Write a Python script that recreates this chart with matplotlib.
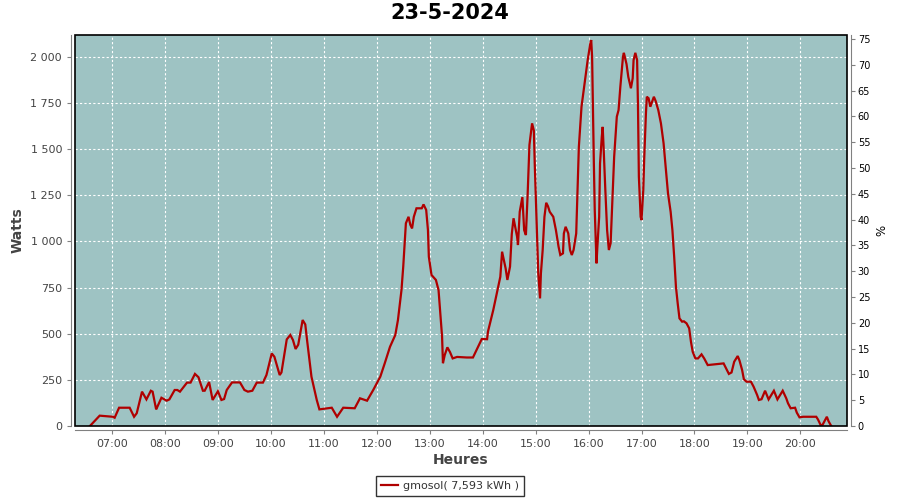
import matplotlib
matplotlib.use("Agg")
import matplotlib.pyplot as plt
from matplotlib.patches import Rectangle
from matplotlib.ticker import FuncFormatter

title = "23-5-2024"
series_label = "gmosol( 7,593 kWh )"

times = ["06:35", "06:46", "07:01", "07:03", "07:08", "07:20", "07:25", "07:28", "07:34", "07:39",
         "07:44", "07:46", "07:50", "07:51", "07:56", "08:02", "08:05", "08:11", "08:14", "08:17",
         "08:25", "08:29", "08:34", "08:38", "08:43", "08:45", "08:50", "08:54", "09:00", "09:04",
         "09:07", "09:10", "09:16", "09:25", "09:30", "09:34", "09:39", "09:44", "09:51", "09:55",
         "10:01", "10:04", "10:10", "10:12", "10:18", "10:22", "10:25", "10:28", "10:31", "10:36",
         "10:39", "10:41", "10:46", "10:52", "10:55", "11:09", "11:15", "11:22", "11:35", "11:41",
         "11:49", "11:56", "12:04", "12:09", "12:15", "12:21", "12:24", "12:28", "12:30", "12:33",
         "12:36", "12:38", "12:40", "12:42", "12:45", "12:51", "12:53", "12:56", "12:58", "12:59",
         "13:02", "13:07", "13:10", "13:12", "13:14", "13:15", "13:17", "13:20", "13:23", "13:26",
         "13:31", "13:42", "13:49", "13:53", "13:59", "14:05", "14:06", "14:12", "14:16", "14:20",
         "14:22", "14:26", "14:28", "14:31", "14:33", "14:35", "14:39", "14:40", "14:42", "14:45",
         "14:47", "14:49", "14:51", "14:53", "14:56", "14:58", "14:59", "15:01", "15:03", "15:05",
         "15:06", "15:08", "15:10", "15:12", "15:14", "15:16", "15:20", "15:23", "15:26", "15:28",
         "15:31", "15:32", "15:34", "15:37", "15:39", "15:41", "15:43", "15:46", "15:47", "15:49",
         "15:52", "15:56", "15:59", "16:02", "16:03", "16:04", "16:06", "16:07", "16:09", "16:10",
         "16:12", "16:13", "16:15", "16:16", "16:17", "16:19", "16:21", "16:23", "16:25", "16:27",
         "16:29", "16:32", "16:34", "16:36", "16:39", "16:40", "16:43", "16:45", "16:48", "16:50",
         "16:51", "16:53", "16:55", "16:56", "16:57", "16:59", "17:00", "17:02", "17:03", "17:05",
         "17:06", "17:08", "17:10", "17:12", "17:14", "17:16", "17:19", "17:22", "17:25", "17:27",
         "17:30", "17:33", "17:35", "17:37", "17:39", "17:41", "17:43", "17:46", "17:48", "17:51",
         "17:54", "17:56", "17:58", "18:01", "18:04", "18:08", "18:11", "18:15", "18:33", "18:39",
         "18:42", "18:45", "18:49", "18:51", "18:54", "18:56", "18:59", "19:04", "19:07", "19:11",
         "19:13", "19:16", "19:20", "19:24", "19:30", "19:34", "19:40", "19:44", "19:46", "19:49",
         "19:54", "19:56", "19:59", "20:03", "20:18", "20:20", "20:23", "20:25", "20:30", "20:32",
         "20:35"]

watts = [0, 56, 50, 45, 99, 99, 50, 69, 186, 144,
         191, 186, 90, 100, 153, 137, 144, 195, 195, 186,
         235, 235, 282, 264, 191, 191, 238, 141, 188, 141,
         146, 195, 236, 236, 195, 186, 191, 235, 235, 276,
         393, 375, 276, 290, 469, 493, 466, 417, 440, 574,
         550, 466, 267, 141, 90, 99, 50, 99, 96, 150,
         137, 195, 267, 339, 429, 493, 574, 736, 863, 1098,
         1133, 1090, 1070, 1133, 1179, 1179, 1200, 1170, 1061, 917,
         818, 791, 736, 610, 484, 340, 384, 426, 400, 366,
         374, 371, 371, 411, 471, 470, 511, 628, 719, 808,
         944, 854, 791, 863, 1040, 1125, 1025, 980, 1160, 1240,
         1061, 1034, 1260, 1522, 1639, 1600, 1422, 1133, 827, 691,
         827, 953, 1133, 1209, 1190, 1160, 1133, 1061, 971, 926,
         935, 1043, 1079, 1043, 953, 926, 953, 1043, 1206, 1512,
         1729, 1873, 1982, 2072, 2090, 2000, 1422, 1170, 881, 972,
         1133, 1422, 1567, 1620, 1512, 1278, 1061, 953, 990, 1224,
         1458, 1675, 1711, 1837, 2000, 2021, 1960, 1891, 1829, 1883,
         1982, 2021, 1982, 1729, 1350, 1133, 1115, 1278, 1440, 1693,
         1783, 1775, 1729, 1756, 1783, 1760, 1711, 1639, 1531, 1422,
         1260, 1160, 1061, 917, 754, 664, 583, 565, 567, 556,
         529, 457, 402, 366, 366, 388, 366, 330, 339, 282,
         290, 348, 379, 355, 303, 253, 240, 240, 213, 168,
         141, 145, 191, 144, 191, 144, 191, 150, 123, 96,
         99, 72, 47, 50, 50, 35, 5, 5, 50, 25,
         0]

hour_ticks = list(range(7, 21))
watt_ticks = list(range(0, 2001, 250))
pct_ticks = list(range(0, 76, 5))


def to_hours(s):
    h, m = s.split(":")
    return int(h) + int(m) / 60.0


x = [to_hours(t) for t in times]

fig = plt.figure(figsize=(9, 5), dpi=100)
ax = fig.add_axes([75.3 / 900, 1 - 426 / 500, (846.7 - 75.3) / 900, (426 - 35) / 500])
ax.set_facecolor("#9EC3C3")

ax.plot(x, watts, color="#B00000", linewidth=1.6, solid_joinstyle="miter", zorder=3)

ax.set_xlim(to_hours("06:18") + 0.4 / 60, to_hours("20:52") + 0.5 / 60)
ax.set_ylim(0, 2117.5)

ax.set_xticks(hour_ticks)
ax.set_xticklabels([f"{h:02d}:00" for h in hour_ticks])
ax.set_yticks(watt_ticks)
ax.yaxis.set_major_formatter(FuncFormatter(lambda v, p: f"{int(v):,}".replace(",", " ")))

ax.grid(True, color="white", linestyle=(0, (2, 2)), linewidth=0.8, zorder=1)
ax.set_axisbelow(True)

for side in ["top", "right"]:
    ax.spines[side].set_visible(False)
for side in ["left", "bottom"]:
    ax.spines[side].set_position(("outward", 3))
    ax.spines[side].set_color("#808080")
ax.tick_params(axis="both", direction="out", length=3, width=0.8, color="#808080",
               labelsize=8, labelcolor="#444444")

ax.add_patch(Rectangle((0, 0), 1, 1, transform=ax.transAxes, fill=False,
                       edgecolor="black", linewidth=1.2, zorder=5, clip_on=False))

ax2 = ax.twinx()
ax2.set_ylim(0, 75.78)
ax2.set_yticks(pct_ticks)
for side in ["top", "left", "bottom"]:
    ax2.spines[side].set_visible(False)
ax2.spines["right"].set_position(("outward", 3))
ax2.spines["right"].set_color("#808080")
ax2.tick_params(axis="y", direction="out", length=3, width=0.8, color="#808080",
                labelsize=7, labelcolor="black", pad=2)
ax2.set_ylabel("%", fontsize=8.5, labelpad=4)

ax.set_xlabel("Heures", fontsize=10, fontweight="bold", color="#444444", labelpad=3)
ax.set_ylabel("Watts", fontsize=10, fontweight="bold", color="#444444", labelpad=4)
fig.suptitle(title, fontsize=15, fontweight="bold", y=0.994)

leg = ax.legend([ax.lines[0]], [series_label], loc="upper center",
                bbox_to_anchor=((450 - 75.3) / 771.4, -0.128), frameon=True, fancybox=False,
                edgecolor="black", fontsize=8, handlelength=1.5, handletextpad=0.4,
                borderpad=0.45, borderaxespad=0, labelcolor="#333333")
leg.get_frame().set_linewidth(1.0)

fig.savefig("out.png", dpi=100)
